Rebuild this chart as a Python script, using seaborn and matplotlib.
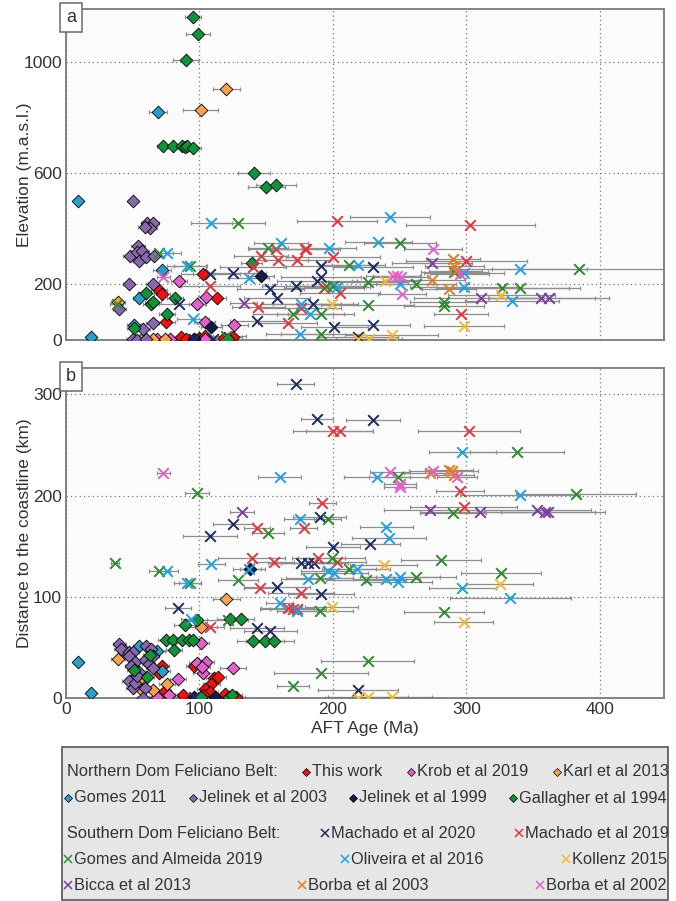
import matplotlib
matplotlib.use("Agg")
import matplotlib.pyplot as plt
import seaborn as sns
import pandas as pd
from matplotlib.lines import Line2D
from matplotlib.patches import Rectangle

sns.set_theme(style="white")
plt.rcParams["font.family"] = ["Liberation Sans", "DejaVu Sans"]

# ---------------- data: (age Ma, value, age error) ----------------
# Panel a: value = elevation (m.a.s.l.); Panel b: value = distance to coastline (km)
this_work_a = [(103, 237, 8), (113, 153, 7), (70, 179, 6), (72, 165, 6), (75, 64, 7), (86, 10, 6),
               (90, 5, 6), (100, 8, 7), (104, 15, 6), (118, 8, 6), (125, 10, 7), (96, 2, 6)]
this_work_b = [(72, 32, 5), (70, 25, 5), (96, 32, 6), (111, 20, 6), (114, 21, 6), (109, 14, 6),
               (104, 9, 6), (108, 6, 6), (88, 3, 6), (103, 3, 6), (119, 4, 7), (127, 1, 7), (74, 7, 5)]

krob_a = [(85, 212, 6), (98, 131, 6), (105, 155, 6), (104, 65, 8), (126, 53, 10), (78, 5, 6),
          (68, 5, 6), (104, 5, 6)]
krob_b = [(101, 54, 6), (98, 35, 6), (105, 36, 6), (103, 25, 8), (125, 30, 10), (84, 19, 6),
          (68, 1, 6), (77, 3, 6), (102, 31, 6)]

karl_a = [(120, 905, 10), (101, 830, 13), (39, 137, 5), (57, 5, 6), (74, 5, 6), (65, 5, 5)]
karl_b = [(120, 98, 10), (39, 39, 5), (44, 46, 5), (101, 70, 12), (56, 20, 6), (57, 8, 6),
          (65, 8, 6), (76, 14, 6)]

gomes_a = [(9, 500, 3), (69, 821, 7), (55, 152, 5), (72, 251, 7), (19, 11, 3), (51, 55, 5)]
gomes_b = [(9, 36, 3), (19, 5, 3), (55, 51, 5), (68, 46, 6), (72, 27, 6), (50, 19, 5)]

jelinek03_a = [(50, 500, 3), (61, 423, 5), (65, 422, 5), (63, 402, 5), (59, 408, 5), (54, 338, 5),
               (48, 302, 5), (53, 317, 5), (57, 321, 5), (55, 285, 5), (60, 299, 5), (66, 302, 5),
               (47, 200, 4), (65, 201, 5), (40, 110, 5), (65, 63, 5), (50, 5, 5), (53, 0, 5),
               (60, 5, 5), (58, 40, 5)]
jelinek03_b = [(40, 53, 5), (41, 48, 5), (47, 45, 5), (50, 45, 5), (47, 41, 5), (52, 36, 5),
               (49, 32, 5), (60, 51, 5), (64, 48, 5), (59, 38, 5), (65, 41, 5), (62, 34, 5),
               (65, 30, 5), (47, 17, 5), (50, 10, 5), (52, 15, 5), (59, 10, 5), (58, 0, 5),
               (55, 26, 5), (53, 22, 5)]

jelinek99_a = [(146, 232, 10), (109, 47, 8), (96, 3, 7)]
jelinek99_b = [(138, 127, 8), (96, 1, 7), (112, 1, 7)]

gallagher_a = [(95, 1162, 6), (99, 1101, 9), (90, 1007, 10), (73, 700, 5), (80, 700, 5), (87, 700, 5),
               (89, 695, 6), (91, 700, 6), (95, 692, 6), (141, 600, 12), (150, 550, 14),
               (157, 558, 15), (139, 276, 8), (60, 170, 6), (64, 129, 6), (65, 137, 6),
               (82, 152, 6), (76, 93, 6), (51, 42, 5), (121, 3, 8)]
gallagher_b = [(75, 57, 6), (80, 57, 6), (87, 57, 6), (92, 57, 6), (95, 57, 6), (81, 47, 6),
               (89, 72, 8), (98, 77, 8), (123, 78, 10), (131, 78, 10), (140, 56, 12),
               (149, 56, 14), (156, 56, 15), (63, 42, 5), (51, 28, 5), (61, 21, 5), (101, 1, 7),
               (122, 1, 8), (124, 3, 8)]

machado20_a = [(108, 236, 22), (125, 243, 25), (85, 131, 20), (143, 68, 20), (153, 185, 25),
               (158, 152, 25), (172, 194, 25), (191, 266, 28), (191, 227, 30), (188, 211, 30),
               (185, 131, 30), (230, 262, 30), (201, 48, 25), (230, 55, 28), (219, 11, 30),
               (96, 5, 15), (110, 3, 15)]
machado20_b = [(172, 310, 14), (188, 276, 12), (230, 275, 20), (125, 172, 15), (108, 160, 20),
               (190, 179, 20), (228, 152, 22), (200, 149, 20), (176, 133, 25), (181, 133, 25),
               (186, 133, 25), (191, 103, 25), (158, 110, 25), (143, 69, 20), (153, 66, 20),
               (219, 8, 30), (84, 89, 10), (96, 1, 15)]

machado19_a = [(108, 193, 22), (144, 120, 20), (166, 63, 22), (146, 304, 20), (159, 288, 22),
               (173, 287, 25), (180, 326, 25), (157, 326, 20), (140, 264, 25), (203, 428, 30),
               (200, 300, 35), (193, 188, 30), (205, 170, 30), (179, 326, 25), (303, 414, 48),
               (300, 284, 45), (296, 93, 20), (176, 114, 30)]
machado19_b = [(200, 264, 30), (205, 264, 25), (302, 264, 38), (295, 204, 18), (298, 189, 40),
               (192, 193, 10), (178, 168, 10), (189, 138, 20), (203, 134, 22), (176, 104, 25),
               (143, 168, 10), (139, 138, 25), (156, 134, 15), (145, 109, 12), (166, 89, 20),
               (170, 88, 25), (173, 88, 20), (108, 70, 10)]

gomes_almeida_a = [(38, 131, 5), (70, 314, 10), (93, 267, 12), (129, 423, 20), (151, 333, 15),
                   (170, 95, 30), (191, 20, 30), (191, 92, 25), (195, 194, 30), (250, 351, 27),
                   (212, 270, 20), (200, 195, 25), (226, 209, 30), (262, 200, 30), (283, 137, 25),
                   (283, 122, 30), (226, 125, 35), (327, 189, 50), (340, 189, 45), (384, 254, 65),
                   (291, 245, 25), (120, 15, 15)]
gomes_almeida_b = [(37, 133, 3), (98, 203, 9), (151, 163, 12), (70, 125, 8), (93, 114, 8),
                   (129, 117, 15), (190, 86, 25), (170, 12, 12), (191, 25, 35), (196, 177, 10),
                   (199, 138, 25), (190, 119, 25), (249, 218, 22), (338, 243, 35), (290, 183, 25),
                   (281, 136, 30), (326, 123, 30), (262, 120, 30), (225, 117, 30), (212, 127, 20),
                   (283, 85, 30), (382, 202, 45), (226, 37, 35), (121, 77, 15)]

oliveira_a = [(109, 423, 15), (76, 315, 10), (91, 267, 15), (137, 222, 15), (161, 348, 20),
              (243, 442, 30), (234, 354, 25), (197, 333, 20), (219, 270, 20), (250, 200, 25),
              (298, 242, 30), (298, 192, 40), (340, 254, 50), (334, 142, 35), (203, 192, 25),
              (183, 95, 25), (175, 20, 25), (176, 129, 30), (95, 77, 12)]
oliveira_b = [(160, 218, 16), (175, 177, 12), (109, 132, 10), (76, 125, 8), (137, 127, 12),
              (91, 114, 10), (94, 78, 8), (160, 94, 10), (173, 86, 15), (181, 118, 20),
              (196, 125, 20), (201, 123, 25), (297, 243, 25), (233, 218, 25), (340, 201, 45),
              (240, 169, 20), (242, 158, 28), (218, 127, 25), (250, 120, 30), (249, 115, 25),
              (297, 109, 25), (333, 99, 45), (240, 118, 25)]

kollenz_a = [(239, 213, 25), (326, 161, 40), (298, 51, 30), (244, 17, 35), (219, 2, 30),
             (227, 2, 25), (199, 131, 20)]
kollenz_b = [(238, 131, 25), (325, 113, 25), (199, 90, 20), (298, 75, 22), (219, 0, 25),
             (226, 1, 30), (244, 1, 30)]

bicca_a = [(133, 134, 10), (274, 276, 30), (311, 152, 50), (356, 152, 40), (362, 152, 45)]
bicca_b = [(132, 184, 9), (273, 186, 35), (310, 184, 45), (353, 186, 40), (359, 184, 45),
           (361, 184, 35)]

borba03_a = [(290, 292, 20), (291, 265, 22), (274, 216, 25), (287, 183, 20), (292, 250, 20)]
borba03_b = [(273, 222, 20), (287, 225, 18), (289, 224, 20), (291, 220, 15)]

borba02_a = [(73, 227, 5), (275, 326, 22), (245, 230, 20), (248, 230, 18), (251, 228, 20),
             (252, 165, 18), (295, 238, 22)]
borba02_b = [(73, 222, 5), (243, 223, 15), (250, 211, 12), (250, 208, 12), (275, 224, 18),
             (293, 218, 15)]

# series: label, colour, panel a data, panel b data
northern = [
    ("This work", "#ec1212", this_work_a, this_work_b),
    ("Krob et al 2019", "#e160c9", krob_a, krob_b),
    ("Karl et al 2013", "#f7a24c", karl_a, karl_b),
    ("Gomes 2011", "#2a9ec8", gomes_a, gomes_b),
    ("Jelinek et al 2003", "#8768ad", jelinek03_a, jelinek03_b),
    ("Jelinek et al 1999", "#0f1d4a", jelinek99_a, jelinek99_b),
    ("Gallagher et al 1994", "#14923a", gallagher_a, gallagher_b),
]
southern = [
    ("Machado et al 2020", "#1d2b5f", machado20_a, machado20_b),
    ("Machado et al 2019", "#e5343d", machado19_a, machado19_b),
    ("Gomes and Almeida 2019", "#2f8a2f", gomes_almeida_a, gomes_almeida_b),
    ("Oliveira et al 2016", "#1ba1e4", oliveira_a, oliveira_b),
    ("Kollenz 2015", "#f4b731", kollenz_a, kollenz_b),
    ("Bicca et al 2013", "#7a3d9c", bicca_a, bicca_b),
    ("Borba et al 2003", "#e57b1e", borba03_a, borba03_b),
    ("Borba et al 2002", "#e05fc8", borba02_a, borba02_b),
]

def frame(rows):
    return pd.DataFrame(rows, columns=["age", "val", "err"])

W, H = 676, 901
fig = plt.figure(figsize=(W / 100, H / 100), dpi=100)
fig.patch.set_facecolor("white")
ax_a = fig.add_axes([66 / W, 1 - 340 / H, 598 / W, 331 / H])
ax_b = fig.add_axes([66 / W, 1 - 698 / H, 598 / W, 330 / H])

txt = "#333333"
for ax, k, lab in ((ax_a, 2, "a"), (ax_b, 3, "b")):
    ax.set_facecolor("#fbfbfb")
    for s in northern + southern:
        df = frame(s[k])
        ax.errorbar(df["age"], df["val"], xerr=df["err"], fmt="none", ecolor="#8e8e8e",
                    elinewidth=0.9, capsize=1.6, capthick=0.9, zorder=2)
    for s in northern:
        df = frame(s[k])
        sns.scatterplot(data=df, x="age", y="val", ax=ax, marker="D", s=42, color=s[1],
                        edgecolor="black", linewidth=0.6, zorder=3, legend=False)
    for s in southern:
        df = frame(s[k])
        sns.scatterplot(data=df, x="age", y="val", ax=ax, marker="x", s=58, color=s[1],
                        linewidth=1.4, zorder=4, legend=False)
    ax.set_xlim(0, 448)
    ax.set_xticks([0, 100, 200, 300, 400])
    ax.grid(True, linestyle=(0, (1, 2.5)), color="#777777", linewidth=0.9)
    ax.set_axisbelow(True)
    for sp in ax.spines.values():
        sp.set_color("#7a7a7a")
        sp.set_linewidth(1.3)
    ax.tick_params(length=0, labelsize=12.5, pad=3, colors=txt)
    ax.text(0.0, 1.0, lab, transform=ax.transAxes, ha="left", va="top", fontsize=13,
            color=txt, zorder=6,
            bbox=dict(boxstyle="square,pad=0.35", fc="white", ec="#6a6a6a", lw=1.1))

ax_a.set_ylim(0, 1192)
ax_a.set_yticks([0, 200, 600, 1000])
ax_a.set_xticklabels([])
ax_a.set_xlabel("")
ax_a.set_ylabel("Elevation (m.a.s.l.)", fontsize=12.5, color=txt)
ax_a.yaxis.set_label_coords(-34 / 598, 0.5)

ax_b.set_ylim(0, 326)
ax_b.set_yticks([0, 100, 200, 300])
ax_b.set_xlabel("AFT Age (Ma)", fontsize=12.5, color=txt, labelpad=3)
ax_b.set_ylabel("Distance to the coastline (km)", fontsize=12.5, color=txt)
ax_b.yaxis.set_label_coords(-34 / 598, 0.5)

# ---------------- legend box ----------------
fig.patches.append(Rectangle((62 / W, 1.5 / H), 606 / W, (901 - 747 - 1.5) / H,
                             transform=fig.transFigure, fc="#e6e6e6", ec="#555555", lw=1.2))

def fx(x):
    return x / W

def fy(y):
    return 1 - y / H

lfs = 11.8
rows = [
    (772, "Northern Dom Feliciano Belt:", [0, 1, 2], northern, "D"),
    (798, None, [3, 4, 5, 6], northern, "D"),
    (833, "Southern Dom Feliciano Belt:", [0, 1], southern, "x"),
    (859, None, [2, 3, 4], southern, "x"),
    (885, None, [5, 6, 7], southern, "x"),
]
renderer = fig.canvas.get_renderer()
left, right = 65, 667
for y, head, idxs, group, mk in rows:
    elems = []
    if head:
        t = fig.text(0, fy(y), head, fontsize=lfs, color=txt, ha="left", va="center")
        elems.append(("head", t.get_window_extent(renderer).width, t, None))
    for i in idxs:
        name, col = group[i][0], group[i][1]
        t = fig.text(0, fy(y), name, fontsize=lfs, color=txt, ha="left", va="center")
        elems.append(("item", 9 + t.get_window_extent(renderer).width, t, col))
    total = sum(e[1] for e in elems)
    gap = (right - left - total) / (len(elems) - 1)
    x = left + (2 if head else 0)
    for kind, w, t, col in elems:
        if kind == "head":
            t.set_x(fx(x))
        else:
            if mk == "D":
                fig.add_artist(Line2D([fx(x + 3)], [fy(y)], transform=fig.transFigure, marker="D",
                                      ms=4.2, mfc=col, mec="black", mew=0.5, ls="none"))
            else:
                fig.add_artist(Line2D([fx(x + 3)], [fy(y)], transform=fig.transFigure, marker="x",
                                      ms=5.5, mec=col, mew=1.1, ls="none"))
            t.set_x(fx(x + 9))
        x += w + gap

fig.savefig("out.png", dpi=100)
